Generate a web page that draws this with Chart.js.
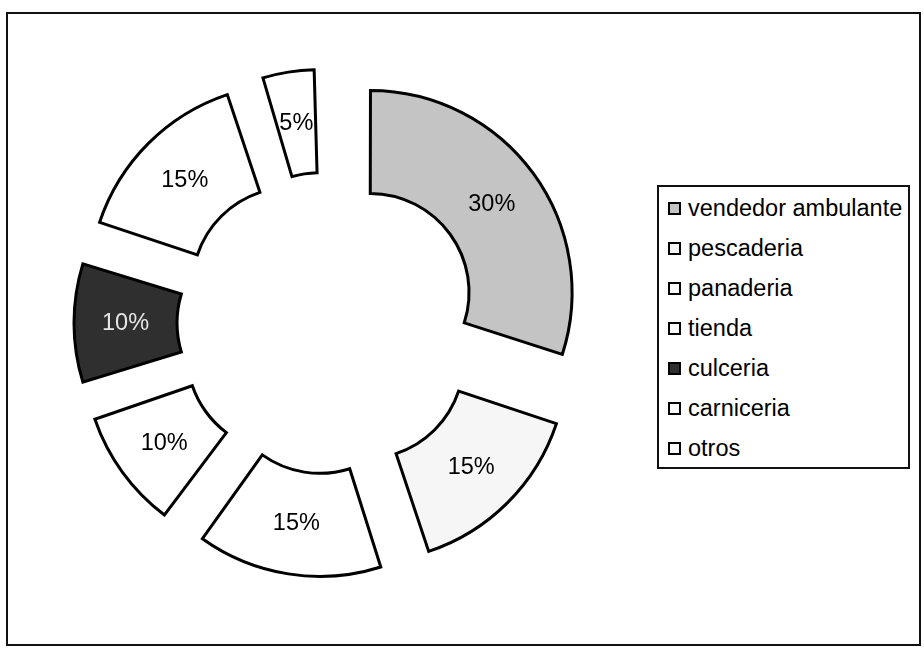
<!DOCTYPE html>
<html>
<head>
<meta charset="utf-8">
<script src="https://cdn.jsdelivr.net/npm/chart.js@4.4.1/dist/chart.umd.min.js"></script>
<style>
  html, body { margin: 0; padding: 0; background: #fff; }
  body { width: 924px; height: 652px; position: relative; overflow: hidden; font-family: "Liberation Sans", Arial, sans-serif; }
  #frame { position: absolute; left: 6px; top: 12px; width: 911px; height: 630px; border: 2px solid #111; }
  #wrap { position: absolute; left: 0; top: 0; width: 656px; height: 646px; }
  #legend { position: absolute; left: 657px; top: 185px; width: 249px; height: 279px; border: 2px solid #111; padding-top: 1px; box-sizing: content-box; }
  .row { height: 40px; line-height: 40px; display: flex; align-items: center; font-size: 23.5px; color: #000; white-space: nowrap; }
  .mk { width: 9px; height: 9px; border: 2px solid #000; margin-left: 9px; margin-right: 7px; flex: none; }
</style>
</head>
<body>
<div id="frame"></div>
<div id="wrap"><canvas id="c" width="656" height="646"></canvas></div>
<div id="legend"></div>
<script>
// ---- data ----
const categories = ['vendedor ambulante', 'pescaderia', 'panaderia', 'tienda', 'culceria', 'carniceria', 'otros'];
const shares = [30, 15, 15, 10, 10, 15, 5];
const shareLabels = ['30%', '15%', '15%', '10%', '10%', '15%', '5%'];
// ---- styles ----
const fills = ['#c4c4c4', '#f6f6f6', '#ffffff', '#ffffff', '#2f2f2f', '#ffffff', '#ffffff'];
const labelColors = ['#000', '#000', '#000', '#000', '#e6e6e6', '#000', '#000'];
const EXPLODE = 52; // px shift of every slice

// Chart.js v4 translates an arc by offset/4 and also grows its radii by (offset/4)*fix;
// this plugin cancels the radius growth so slices keep the same ring.
const explodeFix = {
  id: 'explodeFix',
  beforeDatasetsDraw(chart) {
    chart.getDatasetMeta(0).data.forEach(arc => {
      const off = (arc.options.offset || 0) / 4;
      const fix = 1 - Math.sin(Math.min(Math.PI, arc.circumference));
      arc._saved = [arc.outerRadius, arc.innerRadius];
      arc.outerRadius -= off * fix;
      arc.innerRadius -= off * fix;
    });
  },
  afterDatasetsDraw(chart) {
    const ctx = chart.ctx;
    const meta = chart.getDatasetMeta(0);
    meta.data.forEach((arc, i) => {
      if (arc._saved) { arc.outerRadius = arc._saved[0]; arc.innerRadius = arc._saved[1]; }
      const off = (arc.options.offset || 0) / 4;
      const mid = (arc.startAngle + arc.endAngle) / 2;
      const rm = (arc.outerRadius + arc.innerRadius) / 2 + off;
      ctx.save();
      ctx.font = '23.5px "Liberation Sans", Arial, sans-serif';
      ctx.textAlign = 'center';
      ctx.textBaseline = 'middle';
      ctx.fillStyle = labelColors[i];
      ctx.fillText(shareLabels[i], arc.x + Math.cos(mid) * rm, arc.y + Math.sin(mid) * rm + 1);
      ctx.restore();
    });
  }
};

new Chart(document.getElementById('c'), {
  type: 'doughnut',
  data: {
    labels: categories,
    datasets: [{
      data: shares,
      backgroundColor: fills,
      borderColor: '#000',
      borderWidth: 3,
      borderJoinStyle: 'miter',
      offset: EXPLODE * 4,
      hoverOffset: 0
    }]
  },
  options: {
    responsive: false,
    animation: false,
    radius: 202,
    cutout: '49%',
    layout: { padding: 0 },
    events: [],
    plugins: { legend: { display: false }, tooltip: { enabled: false } }
  },
  plugins: [explodeFix]
});

// legend (real text)
const lg = document.getElementById('legend');
categories.forEach((name, i) => {
  const row = document.createElement('div');
  row.className = 'row';
  const mk = document.createElement('span');
  mk.className = 'mk';
  mk.style.background = fills[i];
  const tx = document.createElement('span');
  tx.textContent = name;
  row.appendChild(mk);
  row.appendChild(tx);
  lg.appendChild(row);
});
</script>
</body>
</html>
